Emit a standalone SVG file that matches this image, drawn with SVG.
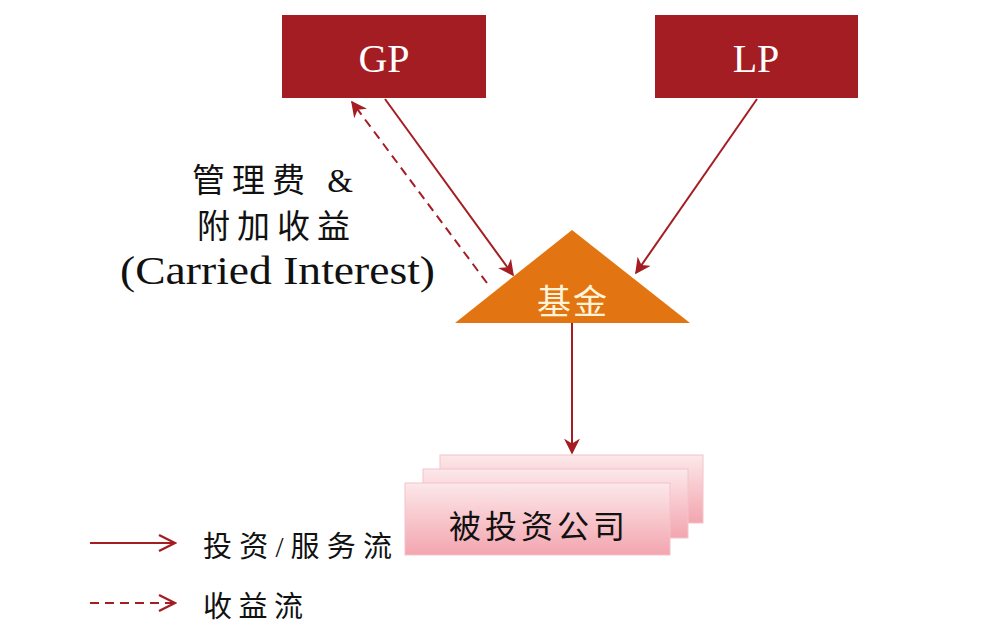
<svg xmlns="http://www.w3.org/2000/svg" width="1000" height="635" viewBox="0 0 1000 635">
<defs>
<style>
.box{fill:#A41D23;}
.serif{font-family:"Liberation Serif","Noto Sans CJK SC",serif;}
.cjk{font-family:"Liberation Serif","Noto Sans CJK SC",serif;fill:#111;}
.conn{stroke:#A41D23;stroke-width:2;fill:none;}
.dash{stroke-dasharray:9,6;}
.co{stroke:#F2C4CB;stroke-width:1;fill:url(#pink);}
</style>
<linearGradient id="pink" x1="0" y1="0" x2="0" y2="1">
<stop offset="0" stop-color="#FCE8EA"/>
<stop offset="1" stop-color="#F3A5AF"/>
</linearGradient>
<marker id="ahBig" viewBox="0 0 10 10" refX="9" refY="5" markerWidth="16" markerHeight="16" markerUnits="userSpaceOnUse" orient="auto">
<path d="M0,0 L10,5 L0,10 L3,5 Z" fill="#A41D23"/>
</marker>
<marker id="chev" viewBox="0 0 10 10" refX="9" refY="5" markerWidth="20" markerHeight="20" markerUnits="userSpaceOnUse" orient="auto">
<path d="M1,1 L9,5 L1,9" fill="none" stroke="#A41D23" stroke-width="1.2"/>
</marker>
</defs>
<rect width="1000" height="635" fill="#fff"/>
<g id="GP">
<rect class="box" x="282" y="15" width="204" height="83"/>
<text class="serif" x="384" y="72" font-size="40" fill="#fff" text-anchor="middle">GP</text>
</g>
<g id="LP">
<rect class="box" x="655" y="15" width="203" height="83"/>
<text class="serif" x="756" y="72" font-size="40" fill="#fff" text-anchor="middle">LP</text>
</g>
<g id="fund">
<polygon points="572,230 455,323 690,323" fill="#E27511"/>
<text class="serif" x="573" y="314" font-size="34" fill="#FFF3D8" text-anchor="middle" letter-spacing="2">基金</text>
</g>
<g id="companies">
<rect class="co" x="440" y="455" width="263" height="68"/>
<rect class="co" x="423" y="469" width="265" height="69"/>
<rect class="co" x="405" y="483" width="265" height="72"/>
<text class="cjk" x="539" y="538" font-size="32" text-anchor="middle" letter-spacing="4">被投资公司</text>
</g>
<g id="label">
<text class="cjk" x="276" y="192" font-size="33" text-anchor="middle" letter-spacing="7">管理费 &amp;</text>
<text class="cjk" x="277" y="238" font-size="33" text-anchor="middle" letter-spacing="7">附加收益</text>
<text class="serif" x="120" y="284" font-size="40" fill="#111" textLength="315" lengthAdjust="spacingAndGlyphs">(Carried Interest)</text>
</g>
<g id="connectors">
<line class="conn" x1="385" y1="99" x2="513" y2="275" marker-end="url(#ahBig)"/>
<line class="conn" x1="757" y1="99" x2="636" y2="273" marker-end="url(#ahBig)"/>
<line class="conn dash" x1="487" y1="283" x2="352" y2="102" marker-end="url(#ahBig)"/>
<line class="conn" x1="572" y1="323" x2="572" y2="453" marker-end="url(#ahBig)"/>
</g>
<g id="legend">
<line class="conn" x1="90" y1="543" x2="175" y2="543" marker-end="url(#chev)"/>
<text class="cjk" x="203" y="557" font-size="29" textLength="189" lengthAdjust="spacing">投资/服务流</text>
<line class="conn dash" x1="90" y1="603" x2="175" y2="603" stroke-dasharray="8,6" marker-end="url(#chev)"/>
<text class="cjk" x="203" y="617" font-size="29" textLength="100" lengthAdjust="spacing">收益流</text>
</g>
</svg>
